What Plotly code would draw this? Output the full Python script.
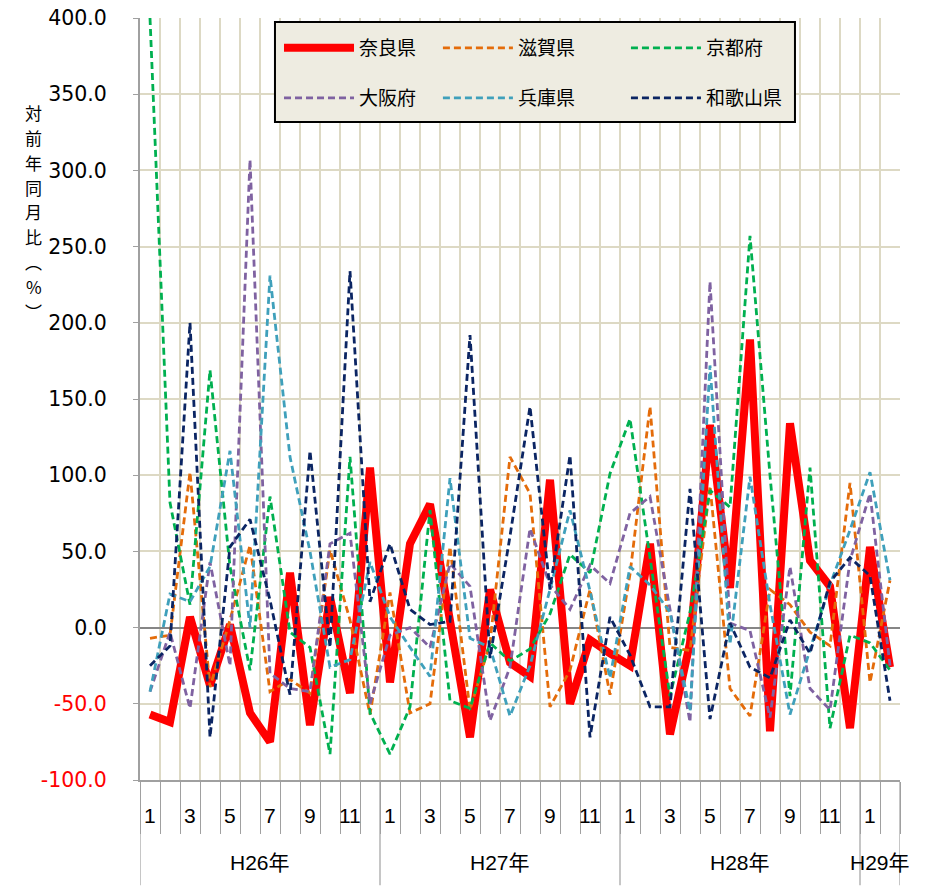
import plotly.graph_objects as go

# ---- data ----
years = ["H26年", "H27年", "H28年", "H29年"]
year_months = [12, 12, 12, 2]
months = list(range(1, 13)) * 3 + [1, 2]

nara = [-57, -62, 7, -38, 2, -56, -75, 36, -64, 20, -43, 105,
        -36, 55, 81, 5, -72, 25, -23, -32, 97, -50, -8, -17,
        -25, 55, -70, -10, 133, 26, 189, -68, 134, 44, 27, -66,
        53, -26]
shiga = [-7, -5, 102, -39, 5, 54, -42, -34, -43, 51, 5, -57,
         23, -56, -50, 53, -54, -10, 112, 88, -52, -28, 25, -44,
         35, 145, -13, -15, 93, -40, -58, 25, 15, -3, -12, 95,
         -36, 31]
kyoto = [400, 82, 15, 169, 40, -28, 86, -3, -13, -83, 112, -56,
         -83, -52, 77, -48, -53, -10, -22, -14, 9, 48, 36, 101,
         137, 45, -45, 10, 90, 79, 257, 100, -45, 105, -66, -5,
         -10, -28]
osaka = [-42, -3, -53, 43, -25, 307, -30, -40, -42, 55, 62, -50,
         -5, 0, -13, 42, 27, -61, -26, 65, 28, 12, 41, 29,
         75, 86, 12, -62, 227, 3, -2, -59, 40, -40, -54, 44,
         88, -25]
hyogo = [-42, 22, 17, 40, 116, 0, 231, 112, 50, -26, -21, 43,
         7, -13, -32, 98, -7, -13, -58, -25, 25, 77, 24, -33,
         40, 28, 10, -55, 172, -11, 99, 15, -57, -15, 28, 64,
         102, 31]
wakayama = [-25, -12, 200, -72, 53, 71, 18, -44, 116, -13, 234, 17,
            55, 12, 2, 4, 192, -20, 60, 145, 25, 113, -72, 7,
            -18, -52, -52, 91, -60, 3, -26, -33, 5, -17, 30, 46,
            34, -48]

series_names = ["奈良県", "滋賀県", "京都府", "大阪府", "兵庫県", "和歌山県"]
series_values = [nara, shiga, kyoto, osaka, hyogo, wakayama]
series_colors = ["#FF0000", "#E46C0A", "#00B050", "#7F62A1", "#3FA0BB", "#0B2563"]

y_ticks = [-100, -50, 0, 50, 100, 150, 200, 250, 300, 350, 400]
y_title_chars = ["対", "前", "年", "同", "月", "比", "︵", "%", "︶"]

# legend grid placement (paper fractions)
legend_cols = [0.1829, 0.392, 0.6394]
legend_rows = [0.9606, 0.895]

# ---- figure ----
n = len(months)
xs = list(range(n))
fig = go.Figure()
legend_layout = {}
for k, (name, vals, col) in enumerate(zip(series_names, series_values, series_colors)):
    if name == "奈良県":
        line = dict(color=col, width=8)
    else:
        line = dict(color=col, width=2.8, dash="7px,4px")
    lg = "legend" if k == 0 else f"legend{k + 1}"
    fig.add_trace(go.Scatter(x=xs, y=vals, mode="lines", name=name, line=line,
                             legend=lg, hoverinfo="skip"))
    legend_layout[lg] = dict(x=legend_cols[k % 3], y=legend_rows[k // 3],
                             xanchor="left", yanchor="middle", orientation="h",
                             bgcolor="rgba(0,0,0,0)", borderwidth=0,
                             font=dict(family="Noto Sans CJK JP", size=19, color="black"),
                             itemwidth=70)

grid_col = "#DDD9C4"
axis_col = "#A0A0A0"
boundaries = [i - 0.5 for i in range(n + 1)]

y_ticktext = []
for v in y_ticks:
    s = f"{v:.1f}"
    if v < 0:
        s = f"<span style='color:#FF0000'>{s}</span>"
    y_ticktext.append(s)

fig.update_layout(
    width=925, height=889,
    margin=dict(l=140, r=25, t=18, b=109, autoexpand=False),
    paper_bgcolor="white", plot_bgcolor="white",
    font=dict(family="Noto Sans CJK JP", color="black"),
    xaxis=dict(range=[-0.5, n - 0.5], tickvals=boundaries, showticklabels=False,
               ticks="outside", ticklen=52, tickcolor=axis_col, tickwidth=1,
               showgrid=True, gridcolor=grid_col, gridwidth=2,
               showline=True, linecolor=axis_col, linewidth=1.5,
               zeroline=False, automargin=False),
    yaxis=dict(range=[-100, 400], tickvals=y_ticks, ticktext=y_ticktext,
               tickfont=dict(family="DejaVu Sans", size=20.5, color="black"),
               ticks="outside", ticklen=5, tickcolor=axis_col,
               ticklabelstandoff=22, ticklabeloverflow="allow",
               showgrid=True, gridcolor=grid_col, gridwidth=2,
               showline=True, linecolor=axis_col, linewidth=2,
               zeroline=True, zerolinecolor="#868686", zerolinewidth=2,
               automargin=False),
    showlegend=True,
    **legend_layout,
)

# legend frame
fig.add_shape(type="rect", xref="paper", yref="paper", x0=0.1776, x1=0.8618,
              y0=0.8635, y1=0.9948, fillcolor="#EEECE1",
              line=dict(color="black", width=2), layer="above")

# month labels (odd months)
for i, m in enumerate(months):
    if m % 2 == 1:
        fig.add_annotation(x=i, y=-0.046, xref="x", yref="paper", text=str(m),
                           showarrow=False, xanchor="center", yanchor="middle",
                           font=dict(family="Liberation Sans Narrow, Liberation Sans", size=21, color="black"))

# year labels and separators
start = 0
for yname, cnt in zip(years, year_months):
    fig.add_annotation(x=start + (cnt - 1) / 2, y=-0.108, xref="x", yref="paper",
                       text=yname, showarrow=False, xanchor="center", yanchor="middle",
                       font=dict(family="Liberation Sans, Noto Sans CJK JP", size=21, color="black"))
    fig.add_shape(type="line", xref="x", yref="paper", x0=start - 0.5, x1=start - 0.5,
                  y0=0, y1=-0.138, line=dict(color=axis_col, width=1.2))
    start += cnt
fig.add_shape(type="line", xref="x", yref="paper", x0=start - 0.5, x1=start - 0.5,
              y0=0, y1=-0.138, line=dict(color=axis_col, width=1.2))

# y-axis title: vertically stacked characters
title_top = 0.8756
title_step = 24.8 / 762
for j, ch in enumerate(y_title_chars):
    fig.add_annotation(x=-0.1395, y=title_top - j * title_step, xref="paper", yref="paper",
                       text=ch, showarrow=False, xanchor="center", yanchor="middle",
                       font=dict(family="Noto Sans CJK JP", size=17, color="black"))

fig.write_html("out.html", config={"displayModeBar": False},
               post_script="document.body.style.margin='0';")
